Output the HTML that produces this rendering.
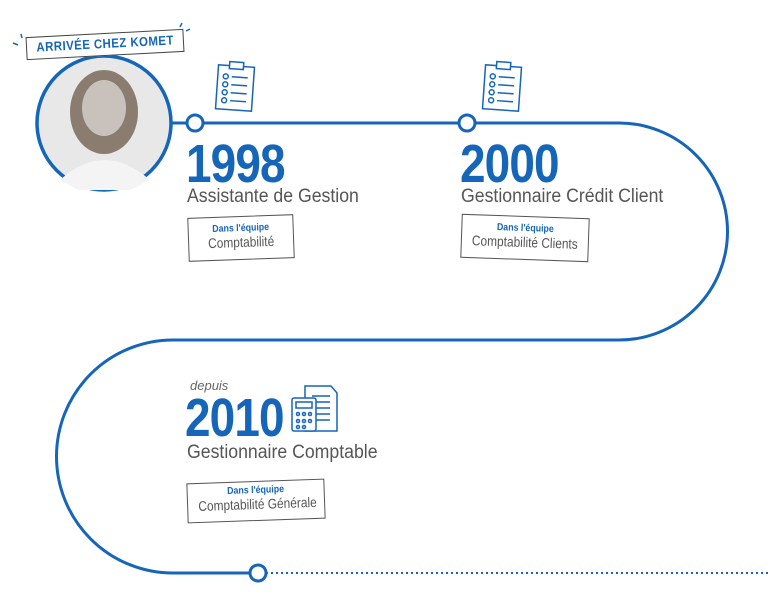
<!DOCTYPE html>
<html><head><meta charset="utf-8"><style>
body{margin:0;width:768px;height:613px;background:#fff;overflow:hidden;position:relative;font-family:"Liberation Sans",sans-serif}
.t{position:absolute;white-space:nowrap;transform-origin:left top}
.yr{font-weight:bold;font-size:54px;line-height:54px;color:#1565b8;letter-spacing:-1px;transform:scaleX(.85)}
.job{font-size:19px;color:#555;transform:scaleX(.93)}
.box{position:absolute;border:1.5px solid #555;background:#fff;text-align:center;box-sizing:border-box;white-space:nowrap}
.box b{display:block;color:#1565b8;font-size:10px;margin-top:6px;transform:scaleX(.88)}
.box span{display:block;color:#555;font-size:14px;transform:scaleX(.85)}
</style></head><body>
<svg width="768" height="613" style="position:absolute;left:0;top:0">
<g fill="none" stroke="#1565b8" stroke-width="3">
<path d="M172 123 H619 A108.5 108.5 0 0 1 619 340 H173 A116.5 116.5 0 0 0 173 573 H250"/>
</g>
<line x1="266" y1="573" x2="768" y2="573" stroke="#1565b8" stroke-width="2" stroke-dasharray="2 3"/>
<circle cx="104" cy="123" r="67" fill="#e8e8e8" stroke="#1565b8" stroke-width="3.5"/>
<ellipse cx="104" cy="112" rx="34" ry="42" fill="#8a7d70"/>
<ellipse cx="104" cy="108" rx="22" ry="28" fill="#c9c2bc"/>
<path d="M60 180 Q104 140 150 180 L130 190 H78Z" fill="#f4f4f4"/>
<circle cx="195" cy="123" r="8" fill="#fff" stroke="#1565b8" stroke-width="3"/>
<circle cx="467" cy="123" r="8" fill="#fff" stroke="#1565b8" stroke-width="3"/>
<circle cx="258" cy="573" r="8" fill="#fff" stroke="#1565b8" stroke-width="3"/>
<g stroke="#1565b8" stroke-width="1.5" fill="#fff">
<g transform="rotate(4 235 88)"><rect x="217" y="66" width="36" height="44"/><rect x="228" y="62" width="14" height="7"/>
<path d="M231 77h16M231 85h16M231 93h16M231 101h16" /><circle cx="225" cy="77" r="2.5"/><circle cx="225" cy="85" r="2.5"/><circle cx="225" cy="93" r="2.5"/><circle cx="225" cy="101" r="2.5"/></g>
<g transform="rotate(4 502 88)"><rect x="484" y="66" width="36" height="44"/><rect x="495" y="62" width="14" height="7"/>
<path d="M498 77h16M498 85h16M498 93h16M498 101h16" /><circle cx="492" cy="77" r="2.5"/><circle cx="492" cy="85" r="2.5"/><circle cx="492" cy="93" r="2.5"/><circle cx="492" cy="101" r="2.5"/></g>
<path d="M305 386h26l6 7v38h-32z"/><path d="M312 396h18M312 402h18M312 408h18M312 414h18M312 420h18"/>
<rect x="292" y="398" width="24" height="33" rx="2"/><rect x="296" y="402" width="16" height="6"/>
<circle cx="298" cy="414" r="1.5"/><circle cx="304" cy="414" r="1.5"/><circle cx="310" cy="414" r="1.5"/><circle cx="298" cy="421" r="1.5"/><circle cx="304" cy="421" r="1.5"/><circle cx="310" cy="421" r="1.5"/><circle cx="298" cy="427" r="1.5"/><circle cx="304" cy="427" r="1.5"/>
</g>
<g stroke="#1565b8" stroke-width="1.5"><path d="M18 45l-5-2M22 38l-1-4M180 27l2-4M186 31l4-2"/></g>
</svg>
<div class="box" style="left:26px;top:33px;width:158px;height:23px;transform:rotate(-3deg);border-color:#444"><div style="color:#1565b8;font-weight:bold;font-size:13px;letter-spacing:0.5px;line-height:20px;transform:scaleX(.88);transform-origin:center">ARRIVÉE CHEZ KOMET</div></div>
<div class="t yr" style="left:186px;top:137px">1998</div>
<div class="t job" style="left:187px;top:186px">Assistante de Gestion</div>
<div class="box" style="left:188px;top:216px;width:106px;height:44px;transform:rotate(-2deg)"><b>Dans l'équipe</b><span>Comptabilité</span></div>
<div class="t yr" style="left:460px;top:137px">2000</div>
<div class="t job" style="left:461px;top:186px">Gestionnaire Crédit Client</div>
<div class="box" style="left:461px;top:216px;width:128px;height:44px;transform:rotate(2deg)"><b>Dans l'équipe</b><span>Comptabilité Clients</span></div>
<div class="t" style="left:190px;top:378px;font-style:italic;font-size:13px;color:#666">depuis</div>
<div class="t yr" style="left:185px;top:391px">2010</div>
<div class="t job" style="left:187px;top:442px">Gestionnaire Comptable</div>
<div class="box" style="left:187px;top:481px;width:138px;height:40px;transform:rotate(-2deg)"><b style="margin-top:3px">Dans l'équipe</b><span>Comptabilité Générale</span></div>
</body></html>
